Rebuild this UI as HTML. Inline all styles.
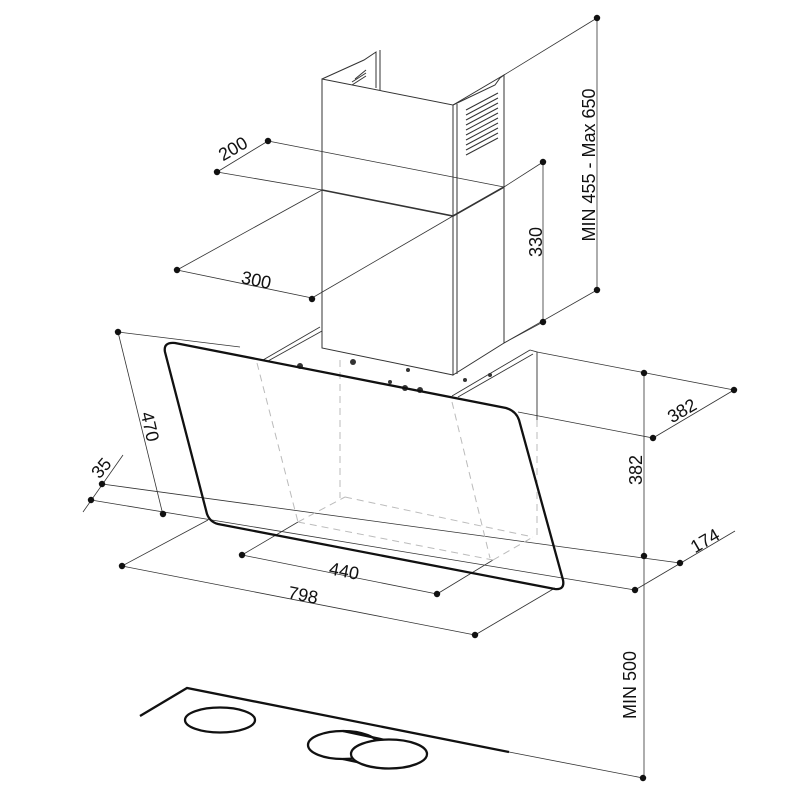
<!DOCTYPE html>
<html><head><meta charset="utf-8"><style>
html,body{margin:0;padding:0;background:#fff;}
svg{display:block;}
text{font-family:"Liberation Sans",sans-serif;font-size:18px;fill:#111;}
</style></head><body>
<svg width="800" height="800" viewBox="0 0 800 800" xmlns="http://www.w3.org/2000/svg">
<!-- chimney -->
<g stroke="#333" stroke-width="1" fill="#fff">
<polygon points="322,79 453,105 453,375 322,348"/>
<polygon points="453,105 504,75 504,343 453,375"/>
<line x1="457" y1="104" x2="457" y2="374"/>
<polyline points="322,79 364,60 376,52 376,88" fill="none"/>
<polyline points="453,105 495,85 500,78 504,75" fill="none"/>
<line x1="380" y1="50" x2="380" y2="90"/>
</g>
<g stroke="#333" stroke-width="1.6">
<polyline points="322,190 453,216 504,187" fill="none"/>
</g>
<g stroke="#333" stroke-width="1">
<line x1="466" y1="110" x2="498" y2="93"/><line x1="466" y1="115" x2="498" y2="98"/><line x1="466" y1="120" x2="498" y2="103"/><line x1="466" y1="125" x2="498" y2="108"/><line x1="466" y1="130" x2="498" y2="113"/><line x1="466" y1="135" x2="498" y2="118"/><line x1="466" y1="140" x2="498" y2="123"/><line x1="466" y1="145" x2="498" y2="128"/><line x1="466" y1="150" x2="498" y2="133"/><line x1="466" y1="155" x2="498" y2="138"/>
<line x1="352" y1="85" x2="366" y2="76"/><line x1="352" y1="82" x2="366" y2="73"/><line x1="355" y1="79" x2="366" y2="70"/>
</g>
<g stroke="#333" stroke-width="0.8" fill="none">
<!-- MIN455 dim -->
<line x1="597" y1="18" x2="597" y2="290"/>
<line x1="597" y1="18" x2="504" y2="75"/>
<line x1="597" y1="290" x2="504" y2="343"/>
<!-- 330 -->
<line x1="543" y1="162" x2="543" y2="322"/>
<line x1="543" y1="162" x2="504" y2="187"/>
<line x1="543" y1="322" x2="504" y2="343"/>
<!-- 200 -->
<line x1="268" y1="141" x2="217" y2="172"/>
<line x1="268" y1="141" x2="504" y2="187"/>
<line x1="217" y1="172" x2="322" y2="190"/>
<!-- 300 -->
<line x1="177" y1="270" x2="312" y2="298"/>
<line x1="177" y1="270" x2="322" y2="190"/>
<line x1="312" y1="298" x2="453" y2="216"/>
<!-- right dims -->
<line x1="644" y1="373" x2="644" y2="778"/>
<line x1="537" y1="352" x2="734" y2="390"/>
<line x1="734" y1="390" x2="653" y2="438"/>
<line x1="518" y1="412" x2="653" y2="438"/>
<line x1="102" y1="484" x2="680" y2="563"/>
<line x1="91" y1="500" x2="635" y2="590"/>
<line x1="635" y1="590" x2="735" y2="531"/>
<!-- 35 / 470 -->
<line x1="123" y1="455" x2="83" y2="512"/>
<line x1="118" y1="332" x2="163" y2="515"/>
<line x1="118" y1="332" x2="240" y2="347"/>
<!-- 798 / 440 -->
<line x1="122" y1="566" x2="475" y2="635"/>
<line x1="122" y1="566" x2="208" y2="520"/>
<line x1="475" y1="635" x2="555" y2="588"/>
<line x1="242" y1="555" x2="437" y2="594"/>
<line x1="242" y1="555" x2="298" y2="522"/>
<line x1="437" y1="594" x2="493" y2="560"/>
<!-- hob thin -->
<line x1="509" y1="752" x2="643" y2="778"/>
</g>
<!-- dashed hidden -->
<g stroke="#bbb" stroke-width="1" fill="none" stroke-dasharray="7,5">
<line x1="257" y1="363" x2="298" y2="522"/>
<line x1="340" y1="360" x2="340" y2="498"/>
<line x1="452" y1="402" x2="490" y2="558"/>
<line x1="298" y1="522" x2="345" y2="497"/>
<line x1="345" y1="497" x2="533" y2="537"/>
<line x1="298" y1="522" x2="493" y2="560"/>
<line x1="493" y1="560" x2="533" y2="537"/>
<line x1="537" y1="420" x2="537" y2="537"/>
</g>
<!-- plate -->
<g stroke="#333" stroke-width="0.9" fill="none">
<line x1="263" y1="360" x2="320" y2="327"/>
<line x1="268" y1="361" x2="322" y2="331"/>
<line x1="452" y1="396" x2="530" y2="350"/>
<line x1="458" y1="397" x2="533" y2="354"/>
<polyline points="530,350 537,352 537,420"/>
</g>
<g fill="#333">
<circle cx="300" cy="366" r="3"/><circle cx="353" cy="362" r="3"/><circle cx="405" cy="388" r="3"/><circle cx="420" cy="390" r="3"/><circle cx="408" cy="370" r="2"/><circle cx="390" cy="382" r="2"/><circle cx="465" cy="380" r="2"/><circle cx="490" cy="375" r="2"/>
</g>
<!-- glass -->
<path d="M175,343 L506,408 Q516,411 519,420 L563,580 Q565,590 555,589 L218,524 Q210,522 207,514 L165,352 Q163,342 175,343 Z" fill="none" stroke="#111" stroke-width="2.3"/>
<!-- hob -->
<g stroke="#111" stroke-width="2.3" fill="#fff">
<polyline points="140,716 187,688 509,752" fill="none"/>
<ellipse cx="220" cy="720" rx="35" ry="12.5"/>
<path d="M343,731 L390,740 L388,768 L343,759 Z" stroke="none"/>
<ellipse cx="343" cy="745" rx="35" ry="14"/>
<line x1="343" y1="731" x2="385" y2="740"/>
<line x1="343" y1="759" x2="385" y2="768"/>
<ellipse cx="389" cy="754" rx="38" ry="14.5"/>
</g>
<!-- dots -->
<g fill="#111">
<circle cx="597" cy="18" r="3.2"/><circle cx="597" cy="290" r="3.2"/>
<circle cx="543" cy="162" r="3.2"/><circle cx="543" cy="322" r="3.2"/>
<circle cx="268" cy="141" r="3.2"/><circle cx="217" cy="172" r="3.2"/>
<circle cx="177" cy="270" r="3.2"/><circle cx="312" cy="299" r="3.2"/>
<circle cx="644" cy="373" r="3.2"/><circle cx="734" cy="390" r="3.2"/><circle cx="653" cy="438" r="3.2"/>
<circle cx="644" cy="556" r="3.2"/><circle cx="680" cy="563" r="3.2"/><circle cx="635" cy="590" r="3.2"/>
<circle cx="118" cy="332" r="3.2"/><circle cx="102" cy="484" r="3.2"/><circle cx="91" cy="500" r="3.2"/><circle cx="163" cy="514" r="3.2"/>
<circle cx="122" cy="566" r="3.2"/><circle cx="475" cy="635" r="3.2"/>
<circle cx="242" cy="555" r="3.2"/><circle cx="437" cy="594" r="3.2"/>
<circle cx="643" cy="778" r="3.2"/>
</g>
<!-- labels -->
<text transform="translate(236,154) rotate(-30)" text-anchor="middle">200</text>
<text transform="translate(255,286) rotate(12)" text-anchor="middle">300</text>
<text transform="translate(542,242) rotate(-90)" text-anchor="middle">330</text>
<text transform="translate(595,165) rotate(-90)" text-anchor="middle">MIN 455 - Max 650</text>
<text transform="translate(144,428) rotate(77)" text-anchor="middle">470</text>
<text transform="translate(106,472) rotate(-50)" text-anchor="middle">35</text>
<text transform="translate(343,577) rotate(11)" text-anchor="middle">440</text>
<text transform="translate(302,601) rotate(11)" text-anchor="middle">798</text>
<text transform="translate(685,416) rotate(-30)" text-anchor="middle">382</text>
<text transform="translate(642,470) rotate(-90)" text-anchor="middle">382</text>
<text transform="translate(708,546) rotate(-30)" text-anchor="middle">174</text>
<text transform="translate(636,685) rotate(-90)" text-anchor="middle">MIN 500</text>
</svg>
</body></html>
